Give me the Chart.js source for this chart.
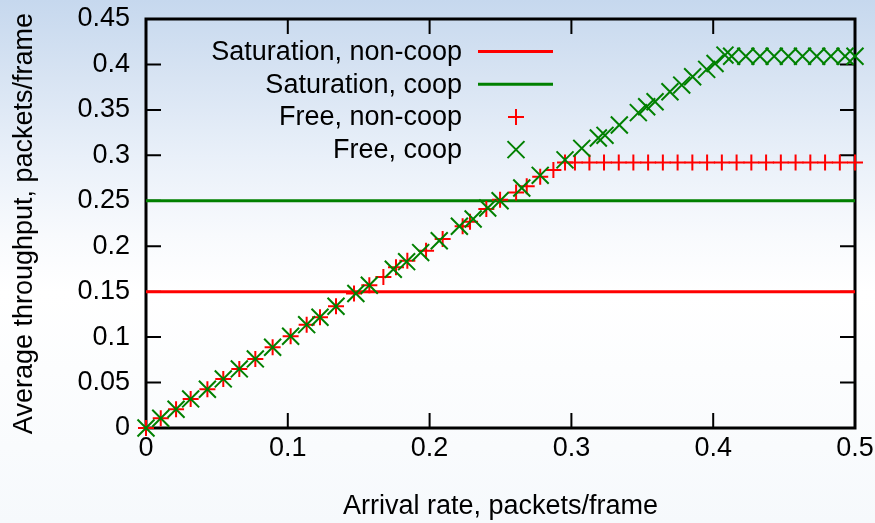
<!DOCTYPE html>
<html>
<head>
<meta charset="utf-8">
<script src="https://cdn.jsdelivr.net/npm/chart.js@4.4.0/dist/chart.umd.min.js"></script>
<style>
  html, body { margin: 0; padding: 0; }
  body {
    width: 875px; height: 523px; overflow: hidden;
    background: linear-gradient(180deg, #c6d8ee 0%, #d8e4f3 15%, #e9f0f9 30%, #f8fafd 45%, #ffffff 56%, #f6f9fc 100%);
  }
  #wrap { position: relative; width: 875px; height: 523px; }
</style>
</head>
<body>
<div id="wrap"><canvas id="chart" width="875" height="523"></canvas></div>
<script>
// tick labels
const xTickLabels = ['0', '0.1', '0.2', '0.3', '0.4', '0.5'];
const yTickLabels = ['0', '0.05', '0.1', '0.15', '0.2', '0.25', '0.3', '0.35', '0.4', '0.45'];

// series names
const seriesNames = ['Saturation, non-coop', 'Saturation, coop', 'Free, non-coop', 'Free, coop'];

// saturation throughput (flat lines)
const satX = [0, 0.5];
const satNonCoopY = [0.15, 0.15];
const satCoopY = [0.25, 0.25];

// free (unsaturated) throughput
const freeNonCoopX = [0, 0.0104, 0.0212, 0.0315, 0.0433, 0.0545, 0.0658, 0.0771, 0.0893, 0.102,
  0.1133, 0.1227, 0.134, 0.1467, 0.1575, 0.1674, 0.1763, 0.1843, 0.1975, 0.2092,
  0.2233, 0.2285, 0.240, 0.2497, 0.261, 0.2685, 0.278, 0.2873, 0.2955, 0.3025,
  0.3127, 0.323, 0.3334, 0.3437, 0.3541, 0.3645, 0.3749, 0.3853, 0.3957, 0.4061,
  0.4165, 0.4269, 0.4373, 0.4477, 0.4581, 0.4685, 0.4789, 0.4893, 0.5];
const freeNonCoopY = [0, 0.0107, 0.0206, 0.032, 0.0426, 0.054, 0.065, 0.076, 0.0888, 0.101,
  0.1137, 0.1218, 0.134, 0.148, 0.157, 0.166, 0.177, 0.184, 0.195, 0.208,
  0.222, 0.227, 0.241, 0.251, 0.259, 0.266, 0.2765, 0.284, 0.292, 0.292,
  0.292, 0.292, 0.292, 0.292, 0.292, 0.292, 0.292, 0.292, 0.292, 0.292,
  0.292, 0.292, 0.292, 0.292, 0.292, 0.292, 0.292, 0.292, 0.292];

const freeCoopX = [0, 0.0104, 0.0212, 0.0315, 0.0433, 0.0545, 0.0658, 0.0771, 0.0893, 0.102,
  0.1133, 0.1227, 0.134, 0.148, 0.1575, 0.1744, 0.1838, 0.1937, 0.2068, 0.221,
  0.2307, 0.241, 0.2497, 0.265, 0.278, 0.2955, 0.3073, 0.319, 0.3237, 0.3338,
  0.3472, 0.3531, 0.359, 0.3695, 0.3778, 0.3855, 0.3954, 0.4013, 0.4083, 0.413,
  0.423, 0.433, 0.443, 0.453, 0.463, 0.473, 0.483, 0.493, 0.5];
const freeCoopY = [0, 0.0107, 0.0206, 0.032, 0.0426, 0.054, 0.065, 0.076, 0.0888, 0.101,
  0.1137, 0.1218, 0.134, 0.148, 0.157, 0.1746, 0.183, 0.193, 0.206, 0.222,
  0.230, 0.242, 0.25, 0.264, 0.278, 0.295, 0.3077, 0.319, 0.322, 0.3333,
  0.347, 0.3535, 0.359, 0.370, 0.3773, 0.3865, 0.3946, 0.401, 0.4103, 0.409,
  0.409, 0.409, 0.409, 0.409, 0.409, 0.409, 0.409, 0.409, 0.409];

const toPoints = (xs, ys) => xs.map((x, i) => ({ x: x, y: ys[i] }));

const FONT = '"Liberation Sans", Arial, sans-serif';
const FONT_SIZE = 27;

// frame + inward ticks on all four sides (gnuplot style)
const framePlugin = {
  id: 'frame',
  beforeDatasetsDraw(chart) {
    const { ctx, chartArea: a, scales } = chart;
    const len = 15;
    ctx.save();
    ctx.strokeStyle = '#000';
    ctx.lineWidth = 2;
    ctx.beginPath();
    scales.x.ticks.forEach(t => {
      const px = scales.x.getPixelForValue(t.value);
      ctx.moveTo(px, a.bottom); ctx.lineTo(px, a.bottom - len);
      ctx.moveTo(px, a.top); ctx.lineTo(px, a.top + len);
    });
    scales.y.ticks.forEach(t => {
      const py = scales.y.getPixelForValue(t.value);
      ctx.moveTo(a.left, py); ctx.lineTo(a.left + len, py);
      ctx.moveTo(a.right, py); ctx.lineTo(a.right - len, py);
    });
    ctx.stroke();
    ctx.lineWidth = 3;
    ctx.strokeRect(a.left, a.top, a.right - a.left, a.bottom - a.top);
    ctx.restore();
  }
};

// key in the top of the plot: text right-aligned, sample on the right
const keyPlugin = {
  id: 'key',
  afterDatasetsDraw(chart) {
    const ctx = chart.ctx;
    const textRight = 462, sampleL = 478, sampleR = 553, markX = 516;
    ctx.save();
    ctx.font = FONT_SIZE + 'px ' + FONT;
    ctx.textAlign = 'right';
    ctx.textBaseline = 'middle';
    chart.data.datasets.forEach((ds, i) => {
      const y = 51.5 + i * 32.7;
      ctx.fillStyle = '#000';
      ctx.fillText(ds.label, textRight, y + 1);
      ctx.strokeStyle = ds.borderColor;
      if (ds.showLine) {
        ctx.lineWidth = ds.borderWidth;
        ctx.beginPath();
        ctx.moveTo(sampleL, y); ctx.lineTo(sampleR, y);
        ctx.stroke();
      } else {
        ctx.lineWidth = ds.pointBorderWidth;
        Chart.helpers.drawPoint(ctx, {
          pointStyle: ds.pointStyle, radius: ds.pointRadius,
          borderWidth: ds.pointBorderWidth, rotation: 0
        }, markX, y);
      }
    });
    ctx.restore();
  }
};

new Chart(document.getElementById('chart'), {
  type: 'scatter',
  data: {
    datasets: [
      {
        label: seriesNames[0], data: toPoints(satX, satNonCoopY), showLine: true,
        borderColor: '#ff0000', backgroundColor: '#ff0000', borderWidth: 3,
        pointRadius: 0, order: 4, clip: false
      },
      {
        label: seriesNames[1], data: toPoints(satX, satCoopY), showLine: true,
        borderColor: '#008000', backgroundColor: '#008000', borderWidth: 3,
        pointRadius: 0, order: 3, clip: false
      },
      {
        label: seriesNames[2], data: toPoints(freeNonCoopX, freeNonCoopY), showLine: false,
        borderColor: '#ff0000', backgroundColor: '#ff0000',
        pointStyle: 'cross', pointRadius: 8, pointBorderWidth: 2, order: 2, clip: false
      },
      {
        label: seriesNames[3], data: toPoints(freeCoopX, freeCoopY), showLine: false,
        borderColor: '#008000', backgroundColor: '#008000',
        pointStyle: 'crossRot', pointRadius: 12, pointBorderWidth: 2, order: 1, clip: false
      }
    ]
  },
  options: {
    responsive: false,
    animation: false,
    devicePixelRatio: 1,
    events: [],
    layout: { padding: { top: 19, right: 20, left: 0, bottom: 0 } },
    plugins: {
      legend: { display: false },
      tooltip: { enabled: false }
    },
    scales: {
      x: {
        type: 'linear',
        min: 0, max: 0.5,
        afterFit: s => { s.height = 95; s.paddingLeft = 0; s.paddingRight = 0; },
        grid: { display: false, drawTicks: false },
        border: { display: false },
        ticks: {
          stepSize: 0.1,
          padding: 4,
          color: '#000',
          font: { family: FONT, size: FONT_SIZE },
          callback: (v, i) => xTickLabels[i]
        },
        title: {
          display: true,
          text: 'Arrival rate, packets/frame',
          color: '#000',
          font: { family: FONT, size: FONT_SIZE },
          padding: { top: 0, bottom: 0 }
        }
      },
      y: {
        type: 'linear',
        min: 0, max: 0.45,
        afterFit: s => { s.width = 146; s.paddingTop = 0; s.paddingBottom = 0; },
        grid: { display: false, drawTicks: false },
        border: { display: false },
        ticks: {
          stepSize: 0.05,
          padding: 16,
          color: '#000',
          font: { family: FONT, size: FONT_SIZE },
          callback: (v, i) => yTickLabels[i]
        },
        title: {
          display: true,
          text: 'Average throughput, packets/frame',
          color: '#000',
          font: { family: FONT, size: FONT_SIZE },
          padding: { top: 8, bottom: 0 }
        }
      }
    }
  },
  plugins: [framePlugin, keyPlugin]
});
</script>
</body>
</html>
